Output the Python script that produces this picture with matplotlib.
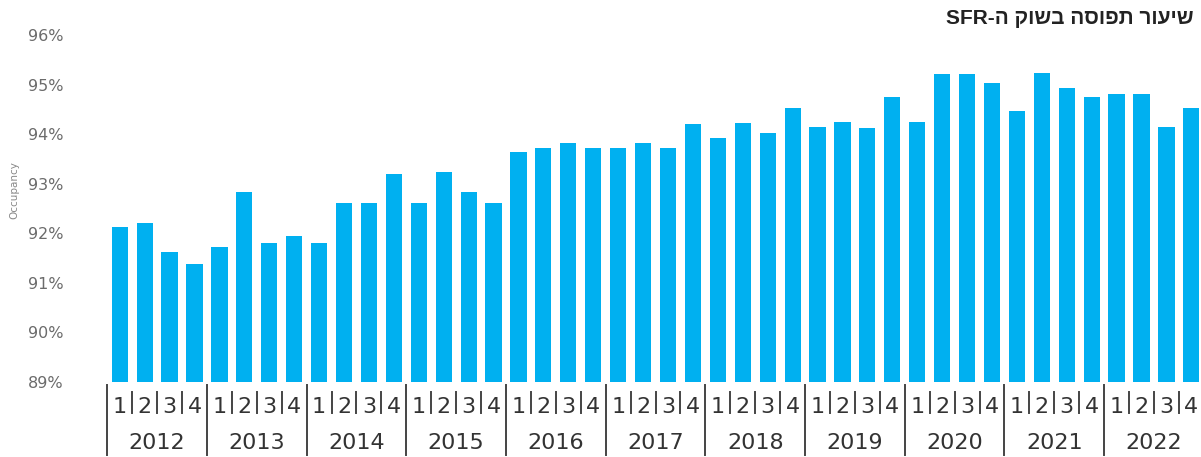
import matplotlib.pyplot as plt
from matplotlib.transforms import blended_transform_factory

# data (occupancy %, quarterly 2012-2022)
years = [str(y) for y in range(2012, 2023)]
quarters = ["1", "2", "3", "4"]
occupancy = [
    92.13, 92.20, 91.62, 91.39,  # 2012
    91.72, 92.83, 91.81, 91.94,  # 2013
    91.81, 92.61, 92.61, 93.20,  # 2014
    92.61, 93.23, 92.83, 92.62,  # 2015
    93.64, 93.72, 93.83, 93.73,  # 2016
    93.73, 93.82, 93.73, 94.21,  # 2017
    93.92, 94.22, 94.03, 94.52,  # 2018
    94.15, 94.24, 94.12, 94.75,  # 2019
    94.25, 95.22, 95.22, 95.03,  # 2020
    94.46, 95.24, 94.93, 94.75,  # 2021
    94.81, 94.81, 94.14, 94.52,  # 2022
]
y_ticks = [89, 90, 91, 92, 93, 94, 95, 96]

title_logical = "שיעור תפוסה בשוק ה"
# matplotlib has no bidi support, so lay the hebrew out visually
title_visual = "SFR-" + title_logical[::-1]

BAR_COLOR = "#00B0F0"
SEP_COLOR = "#444444"

W, H = 1201, 457
fig = plt.figure(figsize=(W / 100, H / 100), dpi=100)
ax = fig.add_axes([104.8 / W, 1 - 382 / H, 1096.5 / W, (382 - 35) / H])

xs = list(range(len(occupancy)))
ax.bar(xs, [v - 89 for v in occupancy], bottom=89, width=0.65, color=BAR_COLOR)

ax.set_xlim(-0.6, len(occupancy) - 0.6)
ax.set_ylim(89, 96)
ax.set_yticks(y_ticks)
ax.set_yticklabels([f"{t}%" for t in y_ticks], fontsize=11.5, color="#6b6b6b")
ax.tick_params(axis="y", length=0, pad=30)
ax.set_xticks([])
for s in ax.spines.values():
    s.set_visible(False)

# category axis drawn by hand: quarter numbers, year labels and separators
tr = blended_transform_factory(ax.transData, fig.transFigure)


def fy(px):
    return 1 - px / H


for k, year in enumerate(years):
    start = 4 * k
    ax.plot([start - 0.5, start - 0.5], [fy(385), fy(455)], transform=tr,
            color=SEP_COLOR, lw=1.4, clip_on=False)
    for q, lab in enumerate(quarters):
        i = start + q
        ax.text(i, fy(407), lab, transform=tr, ha="center", va="center",
                fontsize=16, color="#333333")
        if q < 3:
            ax.plot([i + 0.5, i + 0.5], [fy(392), fy(413)], transform=tr,
                    color=SEP_COLOR, lw=1.4, clip_on=False)
    ax.text(start + 1.5, fy(443), year, transform=tr, ha="center", va="center",
            fontsize=16, color="#333333")

fig.text(14 / W, fy(190), "Occupancy", rotation=90, ha="center", va="center",
         fontsize=7.5, color="#888888")

fig.text(1193 / W, fy(18), title_visual, ha="right", va="center",
         fontsize=15, color="#222222", weight="bold",
         family=["Liberation Sans Narrow", "Liberation Sans", "DejaVu Sans"])

fig.savefig("out.png", dpi=100)
